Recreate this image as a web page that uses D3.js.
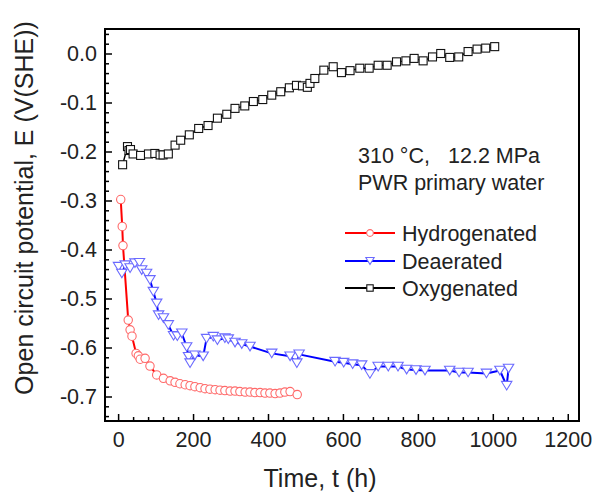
<!DOCTYPE html>
<html>
<head>
<meta charset="utf-8">
<script src="https://cdn.jsdelivr.net/npm/d3@7"></script>
<style>
  html, body { margin: 0; padding: 0; background: #fff; }
  svg { display: block; font-family: "Liberation Sans", Arial, sans-serif; }
</style>
</head>
<body>
<svg id="chart" width="593" height="494"></svg>
<script>
// ---- data ----
const hydT = [7, 11, 13, 27, 32, 37, 48, 54, 59, 72, 85, 103, 121, 139, 152, 165, 179, 192, 205, 219, 232, 245, 259, 272, 285, 299, 312, 325, 339, 352, 365, 379, 392, 405, 419, 432, 445, 459, 478];
const hydE = [-0.298, -0.353, -0.392, -0.544, -0.564, -0.577, -0.612, -0.617, -0.624, -0.622, -0.638, -0.656, -0.663, -0.668, -0.671, -0.674, -0.676, -0.678, -0.680, -0.682, -0.684, -0.685, -0.686, -0.687, -0.688, -0.689, -0.689, -0.690, -0.691, -0.691, -0.692, -0.692, -0.693, -0.693, -0.694, -0.693, -0.691, -0.690, -0.696];

const deaT = [1, 10, 19, 32, 45, 57, 63, 76, 85, 94, 103, 108, 121, 134, 148, 158, 170, 183, 188, 192, 205, 227, 236, 254, 265, 285, 294, 312, 330, 352, 410, 459, 477, 483, 579, 602, 626, 650, 672, 694, 721, 747, 770, 795, 819, 885, 910, 934, 983, 1019, 1037, 1042];
const deaE = [-0.435, -0.449, -0.432, -0.438, -0.428, -0.427, -0.442, -0.449, -0.462, -0.486, -0.510, -0.534, -0.540, -0.554, -0.576, -0.577, -0.571, -0.599, -0.619, -0.632, -0.616, -0.618, -0.582, -0.578, -0.585, -0.581, -0.583, -0.590, -0.593, -0.598, -0.612, -0.618, -0.632, -0.614, -0.629, -0.631, -0.634, -0.636, -0.654, -0.639, -0.639, -0.639, -0.645, -0.646, -0.647, -0.647, -0.651, -0.651, -0.653, -0.647, -0.678, -0.643];

const oxyT = [12, 25, 29, 33, 40, 60, 81, 98, 112, 120, 134, 152, 167, 190, 215, 240, 265, 290, 312, 338, 361, 386, 410, 434, 457, 476, 492, 505, 512, 525, 549, 574, 596, 619, 645, 670, 694, 718, 743, 768, 790, 814, 839, 861, 885, 909, 934, 958, 981, 1005];
const oxyE = [-0.227, -0.190, -0.198, -0.196, -0.205, -0.208, -0.205, -0.204, -0.207, -0.207, -0.205, -0.187, -0.177, -0.166, -0.153, -0.147, -0.132, -0.124, -0.112, -0.107, -0.098, -0.094, -0.085, -0.078, -0.070, -0.065, -0.066, -0.069, -0.061, -0.051, -0.034, -0.027, -0.039, -0.035, -0.030, -0.030, -0.024, -0.024, -0.017, -0.015, -0.010, -0.015, -0.007, 0.000, -0.008, -0.007, 0.004, 0.009, 0.011, 0.014];

const seriesNames = ["Hydrogenated", "Deaerated", "Oxygenated"];
const xTickValues = [0, 200, 400, 600, 800, 1000, 1200];
const xTickLabels = ["0", "200", "400", "600", "800", "1000", "1200"];
const yTickValues = [-0.7, -0.6, -0.5, -0.4, -0.3, -0.2, -0.1, 0.0];
const yTickLabels = ["-0.7", "-0.6", "-0.5", "-0.4", "-0.3", "-0.2", "-0.1", "0.0"];
const noteLines = ["310 °C,", "12.2 MPa", "PWR primary water"];
const xTitle = "Time, t (h)";
const yTitle = "Open circuit potential, E (V(SHE))";

// ---- layout ----
const L = 105, R = 579, T = 29, B = 421;
const svg = d3.select("#chart");
const x = d3.scaleLinear().domain([-35, 1230]).range([L, R]);
const y = d3.scaleLinear().domain([-0.75, 0.05]).range([B, T]);
const textColor = "#222";

// minor ticks
const xMinor = d3.range(40, 1201, 40).filter(v => v % 200 !== 0);
const yMinor = d3.range(-37, 3).map(v => +(v * 0.02).toFixed(2)).filter(v => Math.abs(Math.round(v * 10) - v * 10) > 1e-6);

const gx = svg.append("g").attr("transform", `translate(0,${B})`);
gx.call(d3.axisBottom(x).tickValues(xMinor).tickSize(-4).tickFormat(""));
gx.call(g => g.select(".domain").remove());
const gx2 = svg.append("g").attr("transform", `translate(0,${B})`);
gx2.call(d3.axisBottom(x).tickValues(xTickValues).tickSize(-7).tickPadding(11)
  .tickFormat((d, i) => xTickLabels[i]));
gx2.select(".domain").remove();

const gy = svg.append("g").attr("transform", `translate(${L},0)`);
gy.call(d3.axisLeft(y).tickValues(yMinor).tickSize(-4).tickFormat(""));
gy.select(".domain").remove();
const gy2 = svg.append("g").attr("transform", `translate(${L},0)`);
gy2.call(d3.axisLeft(y).tickValues(yTickValues).tickSize(-7).tickPadding(8)
  .tickFormat((d, i) => yTickLabels[i]));
gy2.select(".domain").remove();

svg.selectAll(".tick line").attr("stroke", "#000").attr("stroke-width", 1.5);
svg.selectAll(".tick text").attr("fill", textColor).style("font-size", "21.5px")
  .style("font-family", '"Liberation Sans", Arial, sans-serif');

// frame
svg.append("rect").attr("x", L).attr("y", T).attr("width", R - L).attr("height", B - T)
  .attr("fill", "none").attr("stroke", "#000").attr("stroke-width", 2);

// axis titles
svg.append("text").attr("x", 320).attr("y", 487).attr("text-anchor", "middle")
  .attr("fill", textColor).style("font-size", "25px").text(xTitle);
svg.append("text").attr("transform", "translate(33,208) rotate(-90)").attr("text-anchor", "middle")
  .attr("fill", textColor).style("font-size", "25px").text(yTitle);

// series
const line = d3.line().x(d => x(d[0])).y(d => y(d[1]));
const hyd = hydT.map((t, i) => [t, hydE[i]]);
const dea = deaT.map((t, i) => [t, deaE[i]]);
const oxy = oxyT.map((t, i) => [t, oxyE[i]]);

const styles = [
  { data: hyd, line: "#ff0000", lw: 2, mk: "#ff6a6a", shape: "circle" },
  { data: dea, line: "#0000ff", lw: 2, mk: "#6a6aff", shape: "tri" },
  { data: oxy, line: "#000000", lw: 1.4, mk: "#111111", shape: "square" }
];

function marker(g, shape, color, s) {
  if (shape === "circle") {
    return g.append("circle").attr("r", 4.2 * s).attr("fill", "#fff").attr("stroke", color).attr("stroke-width", 1.1);
  } else if (shape === "tri") {
    const w = 5.2 * s, h = 4.3 * s;
    return g.append("path").attr("d", `M${-w},${-h}L${w},${-h}L0,${h}Z`).attr("fill", "#fff").attr("stroke", color).attr("stroke-width", 1.1);
  } else {
    const a = 4 * s;
    return g.append("rect").attr("x", -a).attr("y", -a).attr("width", 2 * a).attr("height", 2 * a)
      .attr("fill", "#fff").attr("stroke", color).attr("stroke-width", 1.1);
  }
}

styles.forEach(st => {
  svg.append("path").datum(st.data).attr("d", line).attr("fill", "none")
    .attr("stroke", st.line).attr("stroke-width", st.lw).attr("stroke-linejoin", "round");
});
styles.forEach(st => {
  const g = svg.append("g");
  st.data.forEach(d => {
    const m = g.append("g").attr("transform", `translate(${x(d[0])},${y(d[1])})`);
    marker(m, st.shape, st.mk, 1);
  });
});

// legend
const legY = [233, 261, 288];
styles.forEach((st, i) => {
  const g = svg.append("g").attr("transform", `translate(0,${legY[i]})`);
  g.append("line").attr("x1", 345).attr("x2", 395).attr("y1", 0).attr("y2", 0)
    .attr("stroke", st.line).attr("stroke-width", 2.2);
  const m = g.append("g").attr("transform", "translate(370,0)");
  marker(m, st.shape, st.shape === "square" ? "#111" : st.mk, 0.8);
  g.append("text").attr("x", 402).attr("y", 7.5).attr("fill", textColor)
    .style("font-size", "21.5px").text(seriesNames[i]);
});

// annotation
const note = svg.append("text").attr("fill", textColor).style("font-size", "21.5px");
note.append("tspan").attr("x", 358).attr("y", 163).text(noteLines[0]);
note.append("tspan").attr("x", 448).attr("y", 163).text(noteLines[1]);
svg.append("text").attr("x", 358).attr("y", 190).attr("fill", textColor)
  .style("font-size", "21.5px").text(noteLines[2]);
</script>
</body>
</html>
